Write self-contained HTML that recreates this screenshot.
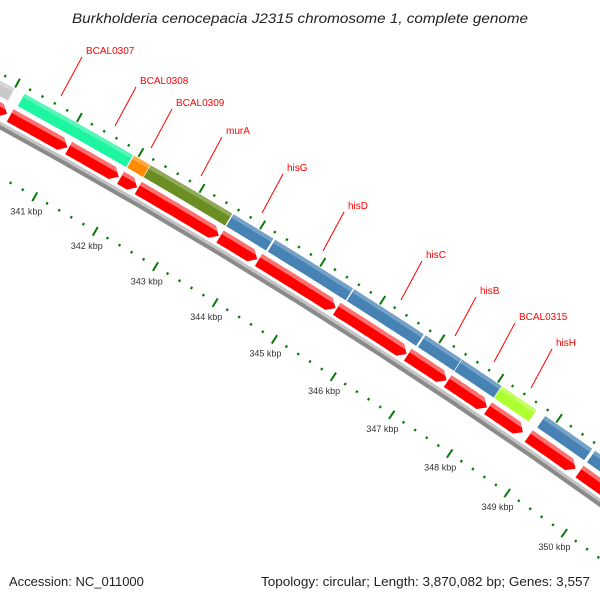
<!DOCTYPE html>
<html><head><meta charset="utf-8"><style>
body{margin:0;background:#fff}
svg{display:block;font-family:"Liberation Sans","DejaVu Sans",sans-serif}
</style></head><body>
<svg id="map" width="600" height="600" viewBox="0 0 600 600">
<text x="72" y="23" textLength="456" lengthAdjust="spacingAndGlyphs" font-size="13.5" font-style="italic" fill="#222">Burkholderia cenocepacia J2315 chromosome 1, complete genome</text>
<text x="9" y="586" font-size="13" fill="#222">Accession: NC_011000</text>
<text x="261" y="586" textLength="329" lengthAdjust="spacingAndGlyphs" font-size="13" fill="#222">Topology: circular; Length: 3,870,082 bp; Genes: 3,557</text>
</svg>
<script>
const geneNames=["","BCAL0307","BCAL0308","BCAL0309","murA","hisG","hisD","hisC","hisB","BCAL0315","hisH",""];
const geneStarts=[338000,340160,341940,342210,343570,344260,345580,346780,347400,348080,348820,349680];
const geneEnds=[340000,341920,342200,343550,344230,345560,346750,347390,348070,348670,349630,352000];
const geneColors=["#c8c8c8","#1ef5a0","#ff8c00","#6b8e23","#4682b4","#4682b4","#4682b4","#4682b4","#4682b4","#adff2f","#4682b4","#4682b4"];
const cdsStarts=[338000,340130,341080,341930,342220,343570,344210,345520,346720,347400,348090,348790,349670];
const cdsEnds=[340080,341060,341900,342200,343550,344190,345500,346700,347380,348070,348690,349600,352000];
const tickKbp=[340,341,342,343,344,345,346,347,348,349,350];
const labelPos=[[86,54],[140,84],[176,106],[226,134],[287,171],[348,209],[426,258],[480,294],[519,320],[556,346]];
const CX=-2870,CY=5354;
const A0=-60.61,DEG_PER_KB=0.675;
function ang(bp){return (A0+(bp-341000)/1000*DEG_PER_KB)*Math.PI/180;}
function pt(bp,r){const a=ang(bp);return [CX+r*Math.cos(a),CY+r*Math.sin(a)];}
const svg=document.getElementById('map');
const NS='http://www.w3.org/2000/svg';
function mk(tag,attrs){const e=document.createElementNS(NS,tag);for(const k in attrs)e.setAttribute(k,attrs[k]);svg.appendChild(e);return e;}
function arcPts(b0,b1,r){const p=[];const n=12;for(let i=0;i<=n;i++){p.push(pt(b0+(b1-b0)*i/n,r));}return p;}
function poly(pts){return 'M'+pts.map(p=>p[0].toFixed(1)+','+p[1].toFixed(1)).join('L')+'Z';}
function band(b0,b1,r0,r1){return poly(arcPts(b0,b1,r1).concat(arcPts(b0,b1,r0).reverse()));}
let e=mk('path',{d:band(337000,353000,5961,5968),fill:'#8a8a8a'});

e=mk('path',{d:band(337000,353000,5965,5968),fill:'#c4c4c4'});

for(let i=0;i<geneStarts.length;i++){
  const g=mk('path',{d:band(geneStarts[i],geneEnds[i],5990,6004),fill:geneColors[i]});
  
  
  const h=mk('path',{d:band(geneStarts[i],geneEnds[i],6000,6004),fill:'#ffffff','fill-opacity':'0.25'});
  
  
}
for(let i=0;i<cdsStarts.length;i++){
  const s=cdsStarts[i],en=cdsEnds[i];
  const head=Math.min(110,(en-s)*0.4);
  const pts=arcPts(s,en-head,5985).concat([pt(en,5978)]).concat(arcPts(s,en-head,5971).reverse());
  const c=mk('path',{d:poly(pts),fill:'#ff0000'});
  
  
  const hp=arcPts(s,en-head,5985).concat([pt(en-head*0.4,5981)]).concat(arcPts(s,en-head*0.9,5981).reverse());
  const h=mk('path',{d:poly(hp),fill:'#ff7070'});
  
  
}
for(let bp=339800;bp<=351200;bp+=200){
  const major=bp%1000===0;
  const r0=major?5914:5918,r1=major?5924:5920.5;
  const p0=pt(bp,r0),p1=pt(bp,r1);
  const t=mk('line',{x1:p0[0],y1:p0[1],x2:p1[0],y2:p1[1],stroke:'#0a7a0a','stroke-width':major?2:2.2});
  
  
  const q0=pt(bp,major?6005:6009),q1=pt(bp,major?6015:6011.5);
  const u=mk('line',{x1:q0[0],y1:q0[1],x2:q1[0],y2:q1[1],stroke:'#0a7a0a','stroke-width':major?2:2.2});
  
  
}
for(let i=0;i<tickKbp.length;i++){
  const p=pt(tickKbp[i]*1000,5902);
  const t=mk('text',{x:p[0].toFixed(1),y:(p[1]+3).toFixed(1),'text-anchor':'middle','font-size':'9',fill:'#333'});
  t.textContent=tickKbp[i]+' kbp';
  
  
}
for(let i=1;i<=10;i++){
  const lp=labelPos[i-1];
  const l=mk('line',{x1:lp[0]-4,y1:lp[1]+3,x2:lp[0]-25,y2:lp[1]+42,stroke:'#ff0000','stroke-width':1});
  
  
  const t=mk('text',{x:lp[0],y:lp[1],'font-size':'10',fill:'#ff0000'});
  t.textContent=geneNames[i];
  
  
}
</script>
</body></html>
